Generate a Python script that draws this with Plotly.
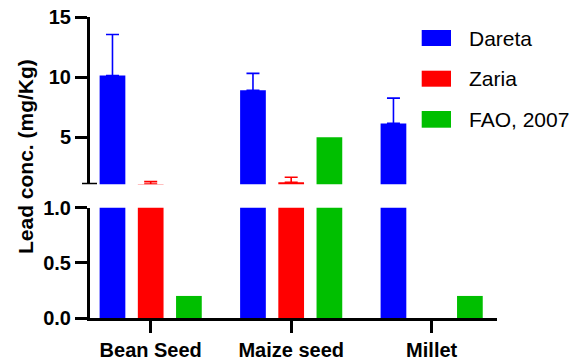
import plotly.graph_objects as go

categories = ["Bean Seed", "Maize seed", "Millet"]
series_names = ["Dareta", "Zaria", "FAO, 2007"]
colors = ["#0000FF", "#FF0000", "#00BF00"]
dareta = [10.14, 8.92, 6.16]
zaria = [1.12, 1.27, None]
fao = [0.2, 5.0, 0.2]
dareta_err = [3.4, 1.4, 2.1]
zaria_err = [0.2, 0.41, None]
fao_err = [None, None, None]
values = [dareta, zaria, fao]
errors = [dareta_err, zaria_err, fao_err]
lower_ticks = [0.0, 0.5, 1.0]
upper_ticks = [5, 10, 15]

FONT = "Liberation Sans, Arial, sans-serif"
W, H = 576, 362
L, R, T, B = 90, 79, 17, 44
pw, ph = W - L - R, H - T - B


def px_x(p):
    return (p - L) / pw


def px_y(p):
    return (H - B - p) / ph


fig = go.Figure()
for name, vals, col in zip(series_names, values, colors):
    fig.add_trace(go.Bar(x=categories, y=vals, name=name, marker_color=col,
                         marker_line_width=0, xaxis="x", yaxis="y",
                         showlegend=False, hoverinfo="skip"))
for name, vals, col, err in zip(series_names, values, colors, errors):
    eb = None
    if any(e is not None for e in err):
        eb = dict(type="data", array=err, arrayminus=[0 if e is not None else None for e in err],
                  symmetric=False, color=col, thickness=1.6, width=6.5)
    fig.add_trace(go.Bar(x=categories, y=vals, name=name, marker_color=col,
                         marker_line_width=0, xaxis="x", yaxis="y2",
                         error_y=eb, showlegend=False, hoverinfo="skip"))

tickfont = dict(family=FONT, size=20, color="black", weight="bold")
axis_common = dict(showgrid=False, zeroline=False, showline=True, linewidth=3,
                   linecolor="black", ticks="outside", ticklen=12, tickwidth=3,
                   tickcolor="black", tickfont=tickfont, automargin=False,
                   ticklabeloverflow="allow")

fig.update_layout(
    width=W, height=H,
    margin=dict(l=L, r=R, t=T, b=B, autoexpand=False),
    plot_bgcolor="white", paper_bgcolor="white",
    barmode="group", bargap=0.184, bargroupgap=0.327,
    showlegend=False,
    xaxis=dict(anchor="y", range=[-0.432, 2.465], type="category", **axis_common),
    yaxis=dict(domain=[0, 0.3664], range=[0, 1.0], tickvals=lower_ticks,
               tickformat=".1f", **axis_common),
    yaxis2=dict(domain=[0.4442, 1], range=[1.1, 15], tickvals=upper_ticks,
                anchor="x", **axis_common),
)

# axis break mark
fig.add_shape(type="line", xref="paper", yref="y2", x0=px_x(82), x1=px_x(97),
              y0=1.1, y1=1.1, line=dict(color="black", width=3))

# custom legend
rows = [(30, 46), (70.7, 86.7), (111, 127.7)]
for (y0, y1), name, col in zip(rows, series_names, colors):
    fig.add_shape(type="rect", xref="paper", yref="paper",
                  x0=px_x(421.7), x1=px_x(451), y0=px_y(y1), y1=px_y(y0),
                  fillcolor=col, line=dict(width=0))
    fig.add_annotation(xref="paper", yref="paper", x=px_x(467), y=px_y((y0 + y1) / 2),
                       text=name, showarrow=False, xanchor="left", yanchor="middle",
                       font=dict(family=FONT, size=21, color="black"))

fig.add_annotation(xref="paper", yref="paper", x=px_x(25), y=px_y(157),
                   text="Lead conc. (mg/Kg)", textangle=-90, showarrow=False,
                   xanchor="center", yanchor="middle",
                   font=dict(family=FONT, size=21, color="black", weight="bold"))

fig.write_html("out.html", config={"displayModeBar": False},
               post_script="document.body.style.margin='0';document.body.style.padding='0';")
